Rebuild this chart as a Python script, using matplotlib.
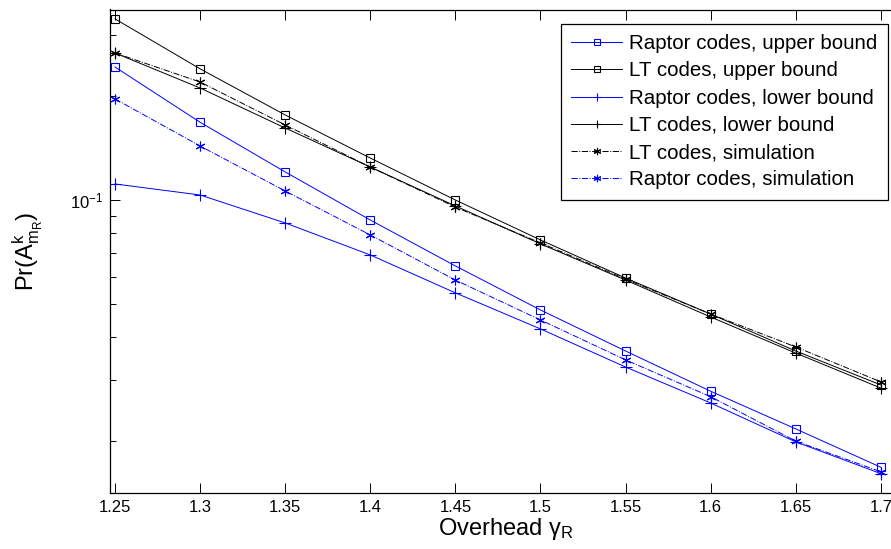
import matplotlib
matplotlib.use("Agg")
import matplotlib.pyplot as plt
from matplotlib.ticker import NullFormatter, FixedLocator

plt.rcParams['font.family'] = ['Liberation Sans', 'DejaVu Sans']
plt.rcParams['mathtext.fontset'] = 'custom'
plt.rcParams['mathtext.rm'] = 'Liberation Sans'
plt.rcParams['mathtext.it'] = 'Liberation Sans:italic'
plt.rcParams['mathtext.bf'] = 'Liberation Sans:bold'

# overhead values
overhead = [1.25, 1.30, 1.35, 1.40, 1.45, 1.50, 1.55, 1.60, 1.65, 1.70]
overhead_labels = ['1.25', '1.3', '1.35', '1.4', '1.45', '1.5', '1.55', '1.6', '1.65', '1.7']

# valores
raptor_upper = [0.243, 0.168, 0.1206, 0.0875, 0.0644, 0.0480, 0.0365, 0.0279, 0.0217, 0.0168]
lt_upper = [0.335, 0.240, 0.1764, 0.1323, 0.1000, 0.0766, 0.0594, 0.0467, 0.0365, 0.0291]
raptor_lower = [0.1113, 0.1034, 0.0858, 0.0693, 0.0538, 0.0423, 0.0328, 0.0258, 0.0199, 0.0161]
lt_lower = [0.2668, 0.2112, 0.1617, 0.1246, 0.0961, 0.0746, 0.0586, 0.0458, 0.0360, 0.0285]
lt_sim = [0.2668, 0.2198, 0.1650, 0.1246, 0.0954, 0.0751, 0.0590, 0.0467, 0.0375, 0.0297]
raptor_sim = [0.1963, 0.1434, 0.1062, 0.0792, 0.0586, 0.0449, 0.0344, 0.0269, 0.0200, 0.0163]

W, H = 891, 549
fig = plt.figure(figsize=(W / 100, H / 100), dpi=100)
# los ejes se salen por la derecha, como en la imagen original
ax = fig.add_axes([110 / W, (H - 493) / H, (902 - 110) / W, (493 - 9.5) / H])

lw = 0.7
ms = 6
ax.plot(overhead, raptor_upper, '-s', color='blue', lw=lw, ms=ms, mfc='none', mew=0.8,
        label='Raptor codes, upper bound')
ax.plot(overhead, lt_upper, '-s', color='black', lw=lw, ms=ms, mfc='none', mew=0.8,
        label='LT codes, upper bound')
ax.plot(overhead, raptor_lower, '-+', color='blue', lw=lw, ms=8, mew=0.8,
        label='Raptor codes, lower bound')
ax.plot(overhead, lt_lower, '-+', color='black', lw=lw, ms=8, mew=0.8,
        label='LT codes, lower bound')
ax.plot(overhead, lt_sim, '-.', marker=(6, 2, 0), color='black', lw=lw, ms=7, mew=0.8,
        label='LT codes, simulation')
ax.plot(overhead, raptor_sim, '-.', marker=(6, 2, 0), color='blue', lw=lw, ms=7, mew=0.8,
        label='Raptor codes, simulation')

ax.set_yscale('log')
ax.set_xlim(1.24706, 1.7124)
ax.set_ylim(10 ** -1.8493, 10 ** -0.4478)
ax.xaxis.set_major_locator(FixedLocator(overhead))
ax.set_xticklabels(overhead_labels)
ax.yaxis.set_minor_formatter(NullFormatter())

ax.tick_params(which='both', direction='in', top=True, right=True, labelsize=12, width=0.7)
ax.tick_params(which='major', length=7, pad=5)
ax.tick_params(which='minor', length=4)
for s in ax.spines.values():
    s.set_linewidth(0.9)

ax.set_xlabel('Overhead γ$_{\\mathrm{R}}$', fontsize=17, labelpad=1)
ax.set_ylabel('Pr(A$^{\\mathrm{k}}_{\\mathrm{m}_{\\mathrm{R}}}$)', fontsize=17, labelpad=18)

leg = ax.legend(loc='upper right', bbox_to_anchor=(888 / W, 1 - 24 / H),
                bbox_transform=fig.transFigure, borderaxespad=0, fontsize=14.8,
                handlelength=2.5, handletextpad=0.35, labelspacing=0.40,
                borderpad=0.5, markerscale=0.75, fancybox=False, framealpha=1)
leg.get_frame().set_edgecolor('black')
leg.get_frame().set_linewidth(0.9)

fig.savefig('out.png', dpi=100)
